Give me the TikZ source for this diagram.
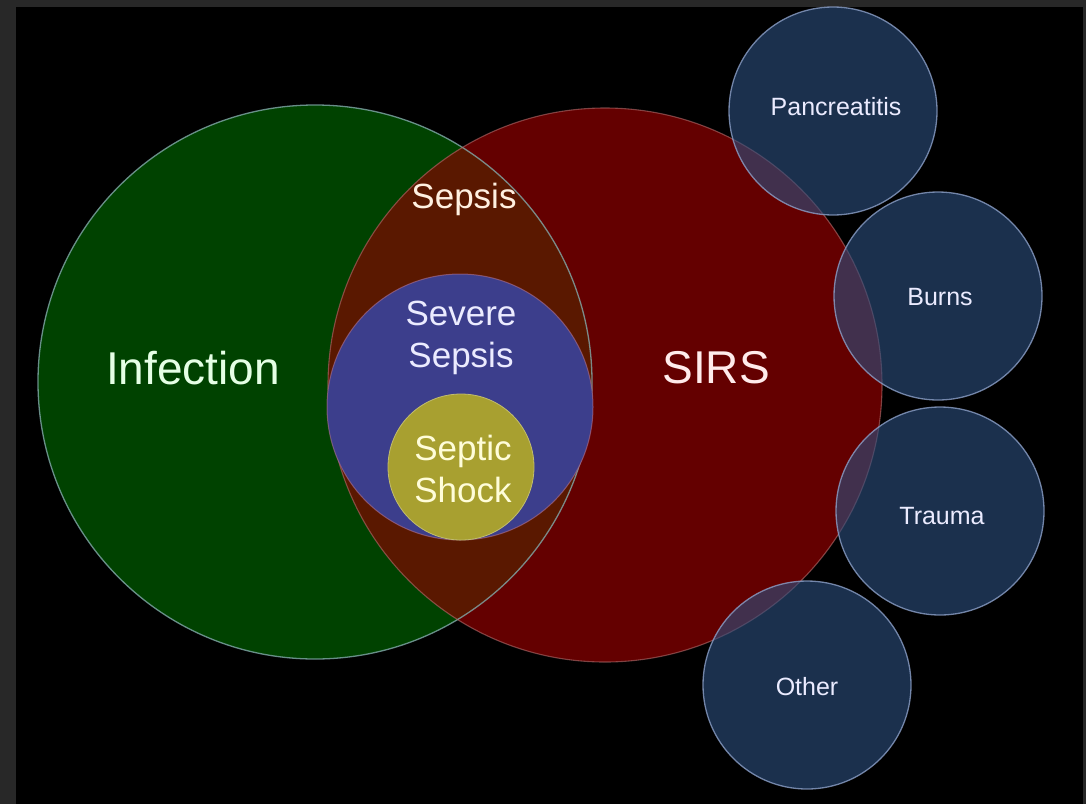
\documentclass[tikz,border=0pt]{standalone}
\usepackage{fontspec}
\setmainfont{Liberation Sans}
\definecolor{frame}{RGB}{40,40,40}
\definecolor{infgreen}{RGB}{0,66,0}
\definecolor{sirsred}{RGB}{100,0,0}
\definecolor{lens}{RGB}{90,24,0}
\definecolor{sevblue}{RGB}{60,62,140}
\definecolor{shockyel}{RGB}{168,160,48}
\definecolor{smallblue}{RGB}{44,78,125}
\definecolor{edgecyan}{RGB}{130,170,170}
\definecolor{edgepink}{RGB}{180,110,110}
\definecolor{edgeblue}{RGB}{140,160,200}
\begin{document}
\begin{tikzpicture}[x=1pt,y=-1pt,
  bigcirc/.style={circle,minimum size=554pt,inner sep=0pt},
  smallcirc/.style={circle,minimum size=208pt,inner sep=0pt,fill=smallblue,fill opacity=0.62,draw=edgeblue,draw opacity=0.8,line width=1.3pt},
  biglabel/.style={font=\fontsize{46}{52}\selectfont,text=white},
  midlabel/.style={font=\fontsize{35}{42}\selectfont,align=center},
  smalllabel/.style={font=\fontsize{25}{30}\selectfont,text=white!92!blue}]
\useasboundingbox (0,0) rectangle (1086,804);
\fill[frame] (0,0) rectangle (1086,804);
\fill[black] (16,7) rectangle (1083,804);
% big circles
\node[bigcirc,fill=infgreen] (inf) at (315,382) {};
\node[bigcirc,fill=sirsred] (sirs) at (605,385) {};
\begin{scope}
  \clip (315,382) circle (277pt);
  \fill[lens] (605,385) circle (277pt);
\end{scope}
\draw[edgecyan,line width=1.3pt,opacity=0.8] (inf.center) circle (277pt);
\draw[edgepink,line width=1.1pt,opacity=0.6] (sirs.center) circle (277pt);
% severe sepsis and septic shock
\node[circle,minimum size=266pt,inner sep=0pt,fill=sevblue,draw=edgeblue!70!red,draw opacity=0.6,line width=1pt] (sev) at (460,407) {};
\node[circle,minimum size=146pt,inner sep=0pt,fill=shockyel,draw=shockyel!70!white,line width=0.8pt] (shock) at (461,467) {};
% small circles
\node[smallcirc] (pan) at (833,111) {};
\node[smallcirc] (burn) at (938,296) {};
\node[smallcirc] (trau) at (940,511) {};
\node[smallcirc] (oth) at (807,685) {};
% labels
\node[biglabel,text=white!90!green] (tinf) at (193,368) {Infection};
\node[biglabel,text=white!92!red] (tsirs) at (716,368) {SIRS};
\node[midlabel,text=white!88!orange] (tsep) at (464,199) {Sepsis};
\node[midlabel,text=white!92!blue] (tsev) at (461,338) {Severe\\Sepsis};
\node[midlabel,text=white!85!yellow] (tshock) at (463,469) {Septic\\Shock};
\node[smalllabel] (tpan) at (836,107) {Pancreatitis};
\node[smalllabel] (tburn) at (940,297) {Burns};
\node[smalllabel] (ttrau) at (942,516) {Trauma};
\node[smalllabel] (toth) at (807,687) {Other};
\end{tikzpicture}
\end{document}
